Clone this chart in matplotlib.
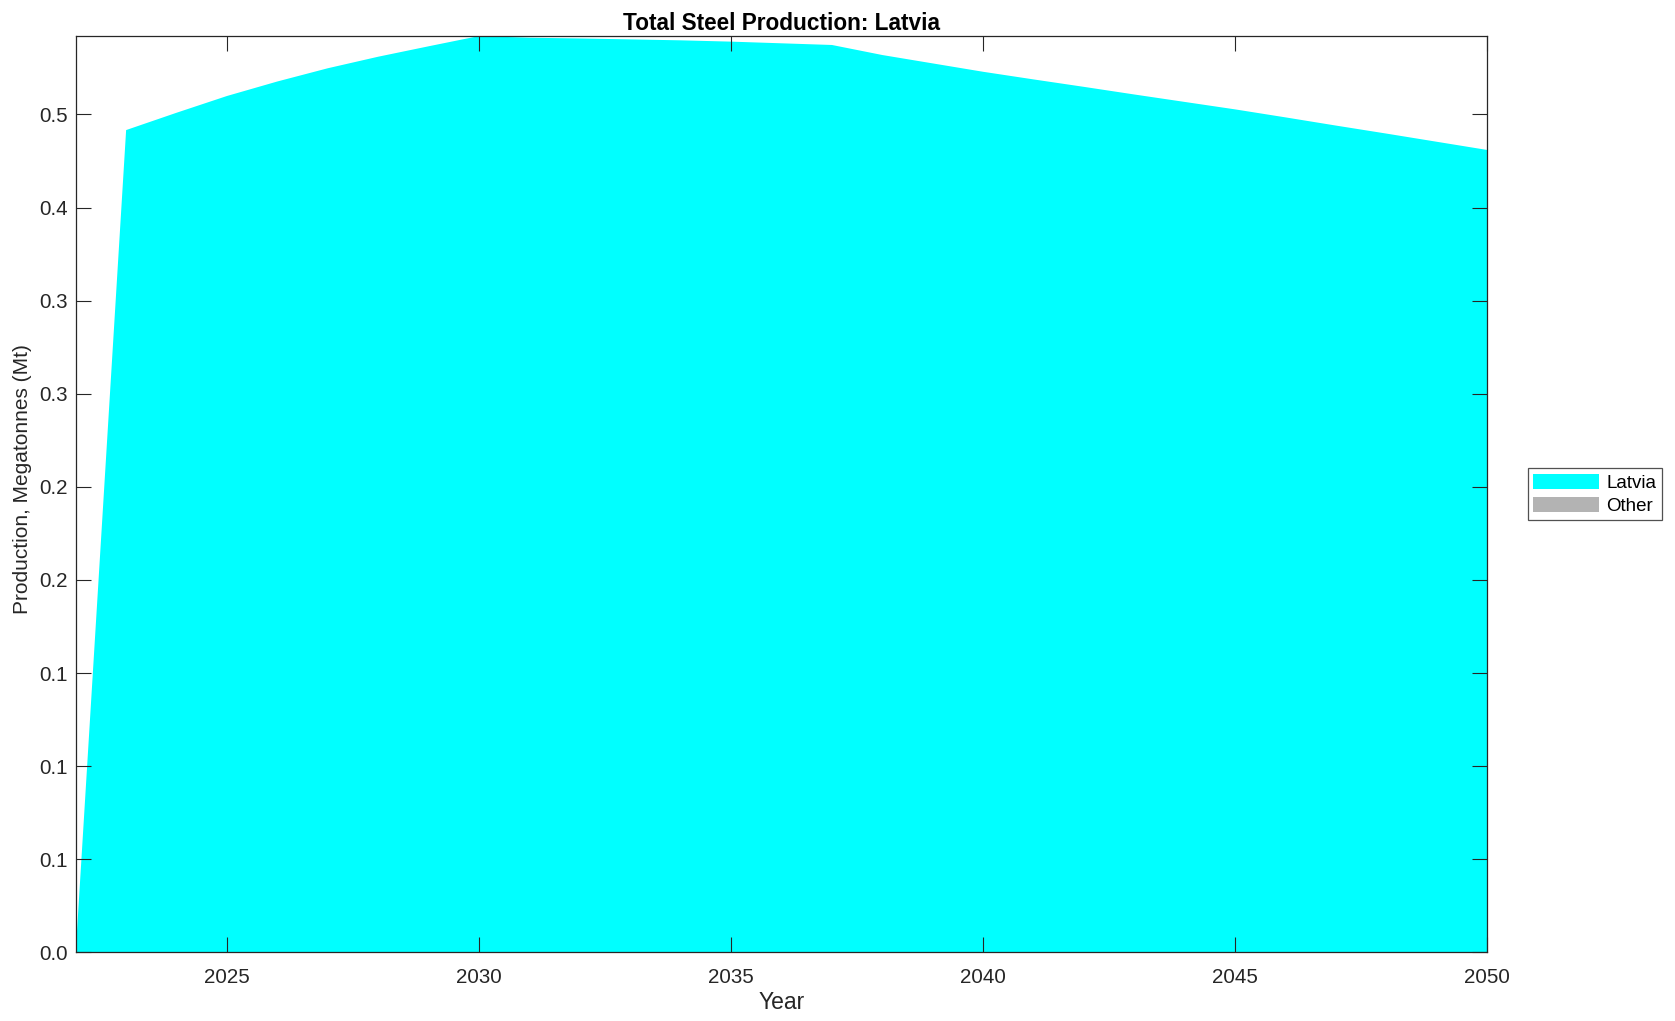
import matplotlib
matplotlib.use('Agg')
import matplotlib.pyplot as plt
from matplotlib.ticker import FormatStrFormatter

# Valores (Mt)
years = list(range(2022, 2051))
latvia = [0.0, 0.4416, 0.4509, 0.4599, 0.4677, 0.4748, 0.4810, 0.4866, 0.4921,
          0.4912, 0.4908, 0.4903, 0.4898, 0.4891, 0.4882, 0.4873,
          0.4819, 0.4774, 0.4729, 0.4688, 0.4648, 0.4607, 0.4567, 0.4527,
          0.4484, 0.4440, 0.4397, 0.4353, 0.4309]
other = [0.0] * len(years)

series_labels = ['Latvia', 'Other']
series_colors = ['#00ffff', '#b3b3b3']

x_ticks = [2025, 2030, 2035, 2040, 2045, 2050]
y_ticks = [0, 0.05, 0.1, 0.15, 0.2, 0.25, 0.3, 0.35, 0.4, 0.45]

plt.rcParams['font.family'] = ['Liberation Sans', 'DejaVu Sans']

fig = plt.figure(figsize=(16.75, 10.21), dpi=100)
ax = fig.add_axes([0.0452, 0.0673, 0.8428, 0.8974])

ax.stackplot(years, latvia, other, colors=series_colors, labels=series_labels,
             linewidth=0)

ax.set_xlim(2022, 2050)
ax.set_ylim(0, 0.4921)
ax.set_xticks(x_ticks)
ax.set_yticks(y_ticks)
ax.yaxis.set_major_formatter(FormatStrFormatter('%.1f'))

ax.tick_params(direction='in', length=11, width=0.8, top=True, right=True,
               labelsize=14.8, colors='#262626')
ax.tick_params(axis='x', pad=11)
ax.tick_params(axis='y', pad=6)
for s in ax.spines.values():
    s.set_color('#262626')
    s.set_linewidth(0.9)

ax.set_title('Total Steel Production: Latvia', fontsize=16.3, fontweight='bold', pad=4)
ax.set_xlabel('Year', fontsize=16.5, color='#262626', labelpad=3)
ax.set_ylabel('Production, Megatonnes (Mt)', fontsize=15, color='#262626')
ax.yaxis.set_label_coords(-0.031, 0.516)

leg = fig.legend(loc='center left', bbox_to_anchor=(0.912, 0.516),
                 bbox_transform=fig.transFigure, fontsize=13.5, frameon=True,
                 fancybox=False, edgecolor='#262626', handlelength=3.5,
                 handleheight=0.9, handletextpad=0.4, borderpad=0.3,
                 labelspacing=0.25, borderaxespad=0)
leg.get_frame().set_linewidth(0.9)

plt.savefig('out.png', dpi=100)
plt.close()
